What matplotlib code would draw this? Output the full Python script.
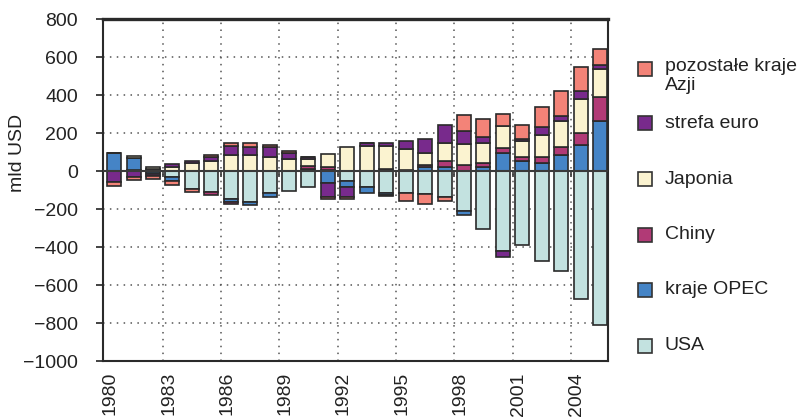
import matplotlib
matplotlib.use("Agg")
import matplotlib.pyplot as plt
from matplotlib.patches import Rectangle
import numpy as np

plt.rcParams['font.family'] = ['Liberation Sans', 'DejaVu Sans']

years = list(range(1980, 2006))
tick_years = [1980, 1983, 1986, 1989, 1992, 1995, 1998, 2001, 2004]
grid_years = [1983, 1986, 1989, 1992, 1995, 1998, 2001, 2004]

usa = [2, 5, -6, -30, -96, -112, -147, -164, -118, -105, -84, 3, -52, -82, -115, -115,
       -123, -135, -209, -305, -421, -389, -474, -526, -674, -810]
opec = [95, 63, -8, -21, 0, 0, -18, -13, -18, 0, 12, -62, -30, -33, -10, 0,
        23, 23, -23, 19, 93, 54, 40, 82, 137, 265]
chiny = [0, 0, 8, 0, 0, -12, -10, 0, 0, 0, 14, 18, 0, 0, 8, 3,
         9, 30, 30, 21, 28, 21, 32, 42, 65, 126]
japonia = [0, 10, 12, 23, 40, 53, 84, 84, 72, 63, 35, 68, 128, 133, 125, 112,
           61, 93, 114, 105, 114, 82, 116, 139, 175, 144]
euro = [-58, -30, -14, 12, 12, 23, 49, 44, 56, 33, 14, -75, -53, 16, 16, 44,
        75, 96, 65, 32, -30, 10, 42, 28, 44, 23]
pozostale = [-20, -20, -14, -23, -12, 9, 12, 18, 9, 9, 0, -11, -12, 0, -9, -42,
             -53, -23, 84, 96, 63, 74, 109, 130, 128, 84]

series_names = ["USA", "kraje OPEC", "Chiny", "Japonia", "strefa euro", "pozostałe kraje\nAzji"]
series_vals = [usa, opec, chiny, japonia, euro, pozostale]
colors = ['#C3E2E0', '#4584C6', '#B13A76', '#FBF3D0', '#782A8C', '#F38378']

W, H = 809, 419
fig = plt.figure(figsize=(W / 100, H / 100), dpi=100)
ax = fig.add_axes([103 / W, 1 - 361 / H, (608 - 103) / W, (361 - 19) / H])

x = np.arange(len(years))
pos_b = np.zeros(len(years))
neg_b = np.zeros(len(years))
for vals, col in zip(series_vals, colors):
    v = np.array(vals, dtype=float)
    bottom = np.where(v >= 0, pos_b, neg_b)
    ax.bar(x, v, width=0.72, bottom=bottom, color=col, edgecolor='#2a2a2a',
           linewidth=1.2, zorder=3)
    pos_b = pos_b + np.where(v > 0, v, 0)
    neg_b = neg_b + np.where(v < 0, v, 0)

ax.set_xlim(-0.57, 25.41)
ax.set_ylim(-1000, 800)

grid_kw = dict(color='#555555', lw=1.1, ls=(0, (1, 3.5)), zorder=1)
for yv in [-800, -600, -400, -200, 200, 400, 600]:
    ax.axhline(yv, **grid_kw)
gx = [years.index(g) - 0.5 for g in grid_years]
for xv in gx:
    ax.axvline(xv, **grid_kw)

ax.axhline(0, color='#3a3a3a', lw=1.5, zorder=5)
ax.vlines(gx, -30, 0, color='#3a3a3a', lw=1.2, zorder=5)

for s in ax.spines.values():
    s.set_linewidth(1.5)
    s.set_color('#2a2a2a')
ax.spines['top'].set_linewidth(2.4)

ax.set_yticks(list(range(-1000, 801, 200)))
ax.tick_params(axis='y', length=5, width=1.2, pad=13, labelsize=14, direction='out', colors='#222222')
ax.set_xticks([years.index(t) - 0.2 for t in tick_years])
ax.set_xticklabels([str(t) for t in tick_years], rotation=90)
ax.tick_params(axis='x', length=0, pad=8, labelsize=14, colors='#222222')

fig.text(18 / W, 1 - 153 / H, 'mld USD', rotation=90, va='center', ha='center',
         fontsize=14, color='#222222')

# legend (top to bottom)
leg_y = [69, 123, 179, 234.5, 289.5, 345.5]
leg_order = [5, 4, 3, 2, 1, 0]
for yc, idx in zip(leg_y, leg_order):
    fig.add_artist(Rectangle((638 / W, 1 - (yc + 7) / H), 14 / W, 14 / H,
                             transform=fig.transFigure, facecolor=colors[idx],
                             edgecolor='#333333', lw=1.2))
    name = series_names[idx]
    if '\n' in name:
        fig.text(665 / W, 1 - (yc - 11) / H, name, va='top', ha='left',
                 fontsize=14, color='#222222', linespacing=1.15)
    else:
        fig.text(665 / W, 1 - yc / H, name, va='center', ha='left',
                 fontsize=14, color='#222222')

fig.savefig('out.png', dpi=100)
